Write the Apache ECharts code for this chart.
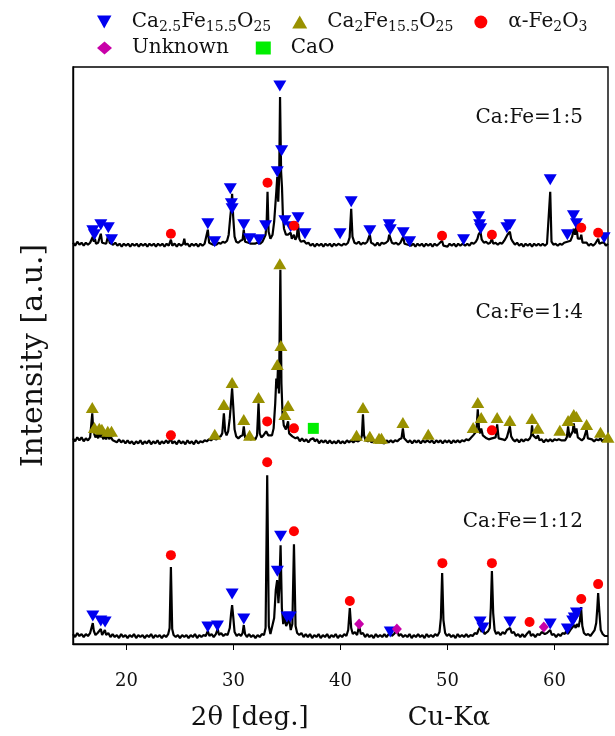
<!DOCTYPE html>
<html>
<head>
<meta charset="utf-8">
<title>XRD patterns</title>
<script src="https://cdn.jsdelivr.net/npm/echarts@6/dist/echarts.min.js"></script>
<style>
html, body { margin: 0; padding: 0; background: #fff; }
#chart { width: 615px; height: 736px; }
</style>
</head>
<body>
<div id="chart"></div>
<script>
// 样品标签 + 每条谱线的基线偏移（纵轴单位）
const samples = ['Ca:Fe=1:5', 'Ca:Fe=1:4', 'Ca:Fe=1:12']
const offsets = [398, 201, 6]
const xTicks = [20, 30, 40, 50, 60]

// 谱线：[2θ, 强度]
const trace15 = [[15.00,4],[15.20,1],[15.40,5],[15.60,2],[15.80,4],[16.00,1],[16.20,4],[16.40,2],[16.60,4],[16.75,5],[16.85,10],[16.95,5],[17.05,8],[17.15,3],[17.35,4],[17.48,3],[17.60,13],[17.72,4],[17.90,5],[18.10,3],[18.30,12],[18.42,4],[18.60,5],[18.75,2],[18.95,4],[19.15,1],[19.35,3],[19.55,0],[19.75,3],[19.95,1],[20.15,3],[20.35,0],[20.55,3],[20.75,1],[20.95,3],[21.15,0],[21.35,3],[21.55,1],[21.75,3],[21.95,0],[22.15,3],[22.35,1],[22.55,3],[22.75,0],[22.95,3],[23.15,1],[23.35,3],[23.55,0],[23.75,3],[23.95,1],[24.05,3],[24.15,7],[24.28,1],[24.50,3],[24.70,0],[24.90,3],[25.10,1],[25.30,3],[25.40,8],[25.50,2],[25.70,3],[25.90,0],[26.10,3],[26.30,1],[26.50,3],[26.70,0],[26.90,3],[27.10,1],[27.30,3],[27.48,4],[27.60,17],[27.72,4],[27.90,3],[28.10,2],[28.24,4],[28.40,2],[28.60,4],[28.80,3],[29.00,5],[29.20,4],[29.40,6],[29.55,12],[29.70,30],[29.80,40],[29.87,53],[29.97,30],[30.10,10],[30.25,5],[30.45,4],[30.65,6],[30.85,7],[30.96,17],[31.08,5],[31.25,3],[31.40,4],[31.50,6],[31.62,3],[31.80,4],[32.00,3],[32.20,4],[32.37,5],[32.50,3],[32.70,5],[32.85,7],[33.00,12],[33.10,25],[33.18,55],[33.28,15],[33.45,8],[33.65,12],[33.80,25],[33.90,40],[34.00,55],[34.09,70],[34.18,45],[34.27,70],[34.35,150],[34.45,75],[34.53,60],[34.62,30],[34.72,18],[34.80,20],[34.90,12],[35.00,14],[35.10,12],[35.22,10],[35.34,14],[35.45,8],[35.55,9],[35.65,12],[35.78,7],[35.92,10],[36.03,23],[36.15,8],[36.30,5],[36.45,4],[36.58,6],[36.68,8],[36.80,3],[37.00,4],[37.20,1],[37.40,3],[37.60,0],[37.80,3],[38.00,1],[38.20,3],[38.40,0],[38.60,3],[38.80,1],[39.00,3],[39.20,0],[39.40,3],[39.60,1],[39.80,3],[39.96,5],[40.10,1],[40.30,3],[40.50,2],[40.70,4],[40.85,9],[41.00,38],[41.12,10],[41.30,4],[41.50,3],[41.70,5],[41.90,2],[42.10,4],[42.30,3],[42.50,5],[42.62,6],[42.74,12],[42.86,4],[43.05,3],[43.25,1],[43.45,4],[43.65,1],[43.85,4],[44.05,3],[44.25,4],[44.45,6],[44.55,12],[44.65,10],[44.80,4],[45.00,3],[45.20,4],[45.40,2],[45.60,4],[45.75,5],[45.86,10],[45.98,3],[46.15,4],[46.30,2],[46.46,4],[46.60,1],[46.80,3],[47.00,0],[47.20,3],[47.40,1],[47.60,3],[47.80,0],[48.00,3],[48.20,1],[48.40,3],[48.60,0],[48.80,3],[49.00,1],[49.20,3],[49.35,2],[49.49,6],[49.62,1],[49.80,3],[50.00,0],[50.20,3],[50.40,1],[50.60,3],[50.80,0],[51.00,3],[51.20,1],[51.40,3],[51.50,4],[51.65,1],[51.85,3],[52.05,1],[52.25,4],[52.45,3],[52.65,5],[52.80,8],[52.90,12],[53.00,11],[53.08,15],[53.20,7],[53.40,4],[53.60,5],[53.80,3],[54.00,4],[54.15,8],[54.28,3],[54.50,4],[54.70,2],[54.90,4],[55.10,3],[55.30,6],[55.45,8],[55.60,12],[55.70,10],[55.83,15],[55.95,8],[56.10,5],[56.30,2],[56.50,4],[56.70,1],[56.90,3],[57.10,0],[57.30,3],[57.50,1],[57.70,3],[57.90,0],[58.10,3],[58.30,1],[58.50,3],[58.70,1],[58.90,3],[59.10,1],[59.30,3],[59.48,5],[59.60,55],[59.72,5],[59.90,2],[60.10,3],[60.30,1],[60.50,3],[60.70,2],[60.90,4],[61.05,3],[61.20,5],[61.35,4],[61.50,6],[61.65,10],[61.80,18],[61.92,12],[62.05,20],[62.18,8],[62.30,6],[62.42,8],[62.50,12],[62.62,4],[62.80,3],[63.00,4],[63.20,1],[63.40,3],[63.60,1],[63.80,3],[63.95,4],[64.08,8],[64.20,3],[64.40,4],[64.55,2],[64.64,4],[64.80,1],[65.00,3]]

const trace14 = [[15.00,5],[15.20,2],[15.40,6],[15.60,3],[15.80,6],[16.00,2],[16.20,5],[16.40,3],[16.60,6],[16.72,8],[16.80,30],[16.90,12],[17.00,14],[17.10,6],[17.25,9],[17.35,5],[17.46,12],[17.58,6],[17.70,11],[17.82,4],[17.95,7],[18.10,4],[18.25,10],[18.38,4],[18.50,7],[18.60,9],[18.72,3],[18.90,5],[19.10,1],[19.30,4],[19.50,1],[19.70,3],[19.90,0],[20.10,3],[20.30,0],[20.50,2],[20.70,-1],[20.90,2],[21.10,0],[21.30,3],[21.50,-1],[21.70,2],[21.90,0],[22.10,3],[22.30,-1],[22.50,2],[22.70,0],[22.90,3],[23.10,-1],[23.30,2],[23.50,0],[23.70,3],[23.90,0],[24.05,2],[24.15,5],[24.28,0],[24.50,2],[24.70,-1],[24.90,3],[25.10,0],[25.30,2],[25.50,-1],[25.70,3],[25.90,0],[26.10,2],[26.30,-1],[26.50,3],[26.70,0],[26.90,2],[27.10,1],[27.30,3],[27.50,2],[27.70,4],[27.90,3],[28.10,5],[28.25,6],[28.40,4],[28.60,6],[28.80,7],[28.95,10],[29.10,30],[29.22,12],[29.35,8],[29.50,12],[29.65,25],[29.80,45],[29.87,55],[29.97,38],[30.10,14],[30.25,7],[30.45,5],[30.65,7],[30.85,8],[30.96,17],[31.08,6],[31.25,4],[31.40,5],[31.50,6],[31.65,4],[31.85,5],[32.05,4],[32.20,8],[32.34,40],[32.45,10],[32.60,6],[32.80,8],[32.95,9],[33.05,12],[33.15,14],[33.25,8],[33.40,6],[33.60,8],[33.75,15],[33.90,40],[34.00,65],[34.08,55],[34.15,74],[34.25,50],[34.38,174],[34.48,60],[34.58,30],[34.70,18],[34.80,20],[34.90,14],[35.00,16],[35.10,22],[35.20,10],[35.35,9],[35.50,7],[35.65,8],[35.80,5],[36.00,6],[36.20,2],[36.40,5],[36.60,2],[36.80,4],[37.00,1],[37.20,4],[37.35,2],[37.46,5],[37.60,2],[37.80,4],[38.00,0],[38.20,3],[38.40,1],[38.60,3],[38.80,0],[39.00,3],[39.20,0],[39.40,2],[39.60,0],[39.80,3],[40.00,0],[40.20,2],[40.40,0],[40.60,3],[40.80,1],[41.00,3],[41.20,1],[41.40,3],[41.50,4],[41.65,2],[41.90,4],[42.00,8],[42.10,29],[42.20,8],[42.35,3],[42.55,2],[42.74,4],[42.90,1],[43.10,3],[43.30,1],[43.50,2],[43.60,3],[43.75,1],[43.90,3],[44.10,0],[44.30,3],[44.50,1],[44.70,3],[44.90,1],[45.10,3],[45.30,2],[45.50,4],[45.70,5],[45.83,15],[45.95,5],[46.10,3],[46.30,1],[46.50,3],[46.70,0],[46.90,3],[47.10,1],[47.30,3],[47.50,0],[47.70,3],[47.90,1],[48.10,3],[48.20,4],[48.35,1],[48.55,3],[48.75,0],[48.95,3],[49.15,1],[49.35,3],[49.55,0],[49.75,3],[49.95,1],[50.15,3],[50.35,0],[50.55,3],[50.75,1],[50.95,3],[51.15,1],[51.35,3],[51.55,2],[51.75,4],[51.95,3],[52.15,5],[52.30,6],[52.40,8],[52.55,6],[52.70,12],[52.83,34],[52.95,14],[53.05,10],[53.15,15],[53.30,8],[53.45,6],[53.65,5],[53.85,4],[54.00,4],[54.15,5],[54.30,3],[54.50,6],[54.64,19],[54.78,5],[54.95,3],[55.15,4],[55.35,3],[55.55,6],[55.70,8],[55.83,17],[55.95,7],[56.10,4],[56.30,2],[56.50,4],[56.70,1],[56.90,4],[57.10,2],[57.30,4],[57.50,3],[57.70,5],[57.82,8],[57.90,18],[58.00,8],[58.15,6],[58.30,5],[58.45,8],[58.60,3],[58.80,4],[59.00,1],[59.20,4],[59.40,2],[59.60,4],[59.80,2],[60.00,4],[60.20,3],[60.40,4],[60.50,6],[60.62,3],[60.80,4],[61.00,3],[61.15,6],[61.27,17],[61.40,6],[61.55,8],[61.70,12],[61.80,20],[61.92,10],[62.05,15],[62.18,6],[62.35,5],[62.55,3],[62.75,5],[62.90,6],[63.00,14],[63.12,5],[63.30,3],[63.50,4],[63.70,2],[63.90,4],[64.10,3],[64.30,5],[64.45,2],[64.65,4],[64.85,3],[65.00,5]]

const trace112 = [[15.00,4],[15.20,1],[15.40,5],[15.60,2],[15.80,4],[16.00,1],[16.20,4],[16.40,2],[16.60,5],[16.75,6],[16.85,15],[16.95,7],[17.10,3],[17.30,5],[17.45,3],[17.60,9],[17.72,3],[17.85,5],[17.98,8],[18.10,3],[18.30,5],[18.50,1],[18.70,4],[18.90,1],[19.10,3],[19.30,0],[19.50,4],[19.70,1],[19.90,3],[20.10,0],[20.30,3],[20.50,1],[20.70,4],[20.90,0],[21.10,3],[21.30,1],[21.50,3],[21.70,0],[21.90,3],[22.10,1],[22.30,4],[22.50,0],[22.70,3],[22.90,1],[23.10,3],[23.30,0],[23.50,3],[23.70,1],[23.90,4],[24.03,10],[24.15,71],[24.27,9],[24.40,3],[24.60,1],[24.80,3],[25.00,0],[25.20,3],[25.40,1],[25.60,3],[25.80,0],[26.00,3],[26.20,1],[26.40,4],[26.60,0],[26.80,3],[27.00,1],[27.20,3],[27.40,2],[27.60,7],[27.75,2],[27.95,4],[28.15,1],[28.35,4],[28.52,9],[28.65,3],[28.85,5],[29.05,2],[29.25,4],[29.45,3],[29.65,10],[29.78,25],[29.87,33],[29.97,22],[30.10,6],[30.30,2],[30.50,4],[30.70,2],[30.85,5],[30.96,13],[31.08,4],[31.25,1],[31.45,4],[31.65,1],[31.85,3],[32.05,0],[32.25,3],[32.45,1],[32.65,4],[32.85,3],[33.00,10],[33.15,163],[33.30,12],[33.45,4],[33.60,6],[33.80,20],[33.95,48],[34.08,58],[34.20,35],[34.28,50],[34.40,93],[34.52,30],[34.65,14],[34.80,22],[34.92,12],[35.05,10],[35.20,19],[35.35,8],[35.50,14],[35.65,94],[35.80,12],[35.95,5],[36.15,3],[36.35,5],[36.55,1],[36.75,4],[36.95,1],[37.15,4],[37.35,0],[37.55,3],[37.75,1],[37.95,4],[38.15,0],[38.35,3],[38.55,1],[38.75,4],[38.95,0],[39.15,3],[39.35,1],[39.55,4],[39.75,0],[39.95,3],[40.15,1],[40.35,4],[40.55,2],[40.72,8],[40.87,30],[41.00,10],[41.15,4],[41.35,6],[41.55,3],[41.74,12],[41.90,4],[42.10,5],[42.30,1],[42.50,4],[42.70,1],[42.90,3],[43.10,0],[43.30,4],[43.50,1],[43.70,3],[43.90,1],[44.10,4],[44.30,1],[44.50,4],[44.65,7],[44.80,2],[45.00,4],[45.15,3],[45.30,8],[45.45,2],[45.65,4],[45.85,1],[46.05,3],[46.25,1],[46.45,4],[46.65,0],[46.85,3],[47.05,1],[47.25,4],[47.45,1],[47.65,3],[47.85,0],[48.05,4],[48.25,1],[48.45,3],[48.65,1],[48.85,4],[49.05,2],[49.25,6],[49.38,20],[49.50,65],[49.62,18],[49.78,5],[49.95,2],[50.15,4],[50.35,1],[50.55,3],[50.75,0],[50.95,4],[51.15,1],[51.35,3],[51.55,1],[51.75,4],[51.95,1],[52.15,3],[52.35,2],[52.55,5],[52.75,4],[52.90,8],[53.05,11],[53.18,6],[53.32,9],[53.45,4],[53.62,5],[53.80,7],[53.95,10],[54.05,30],[54.15,67],[54.27,25],[54.40,8],[54.55,4],[54.75,6],[54.95,3],[55.15,6],[55.35,4],[55.55,8],[55.70,6],[55.85,10],[56.00,5],[56.20,6],[56.40,2],[56.60,4],[56.80,1],[57.00,4],[57.20,1],[57.40,4],[57.55,3],[57.67,7],[57.80,2],[58.00,4],[58.20,1],[58.40,4],[58.60,3],[58.80,6],[58.95,8],[59.10,4],[59.30,5],[59.45,4],[59.60,8],[59.75,3],[59.95,4],[60.15,1],[60.35,4],[60.55,2],[60.75,5],[60.95,4],[61.10,7],[61.25,4],[61.40,6],[61.55,9],[61.70,8],[61.85,13],[61.98,10],[62.10,14],[62.25,11],[62.38,18],[62.48,31],[62.60,12],[62.75,5],[62.95,3],[63.15,4],[63.35,2],[63.55,5],[63.75,8],[63.90,15],[64.00,30],[64.08,45],[64.18,28],[64.32,8],[64.50,4],[64.70,2],[64.85,4],[65.00,2]]

// 物相标记：[2θ, 距基线高度]
const ca25_15 = [[16.85,16],[17.0,12],[17.6,22],[18.3,19],[18.6,7],[27.6,23],[28.24,5],[29.7,58],[29.8,43],[29.87,38],[30.96,22],[31.5,8],[32.37,7],[33.0,21],[34.09,75],[34.33,161],[34.5,96],[34.8,26],[35.34,20],[36.03,29],[36.68,13],[39.96,13],[41.0,45],[42.74,16],[44.55,22],[44.65,17],[45.86,14],[46.46,5],[51.5,7],[52.9,30],[53.0,22],[53.1,18],[55.55,19],[55.83,22],[59.6,67],[61.2,12],[61.77,31],[62.05,23],[64.64,9]]
const ca25_112 = [[16.85,22],[17.6,17],[18.0,16],[27.6,11],[28.5,12],[29.87,44],[30.96,19],[34.1,67],[34.4,102],[35.0,21],[35.3,21],[44.65,6],[53.05,16],[53.3,10],[55.83,16],[59.6,14],[61.2,9],[61.7,17],[61.85,20],[62.05,25]]
const ca2_14 = [[16.8,36],[17.0,16],[17.46,15],[17.7,14],[18.25,12],[18.6,12],[28.25,9],[29.1,39],[29.87,61],[30.96,24],[31.5,8],[32.34,46],[34.09,79],[34.33,180],[34.43,98],[34.8,29],[35.1,38],[41.5,8],[42.1,36],[42.74,7],[43.6,5],[43.83,5],[45.83,21],[48.2,9],[52.4,16],[52.83,41],[53.15,26],[54.64,26],[55.83,23],[57.9,25],[58.45,15],[60.5,13],[61.27,23],[61.8,29],[62.05,27],[63.0,19],[64.3,11],[65.0,6]]
const fe2o3_15 = [[24.15,13],[33.18,64],[35.65,21],[49.49,11],[54.15,12],[62.5,19],[64.08,14]]
const fe2o3_14 = [[24.15,8],[33.15,22],[35.65,15],[54.15,13]]
const fe2o3_112 = [[24.15,83],[33.15,176],[35.65,107],[40.87,37],[49.52,75],[54.15,75],[57.67,16],[62.5,39],[64.08,54]]
const unknown_112 = [[41.74,14],[45.27,9],[59.0,11]]
const cao_14 = [[37.46,15]]

const FONT = 'DejaVu Serif'
const downTri = 'path://M0,0L10,0L5,9Z'

function shift(arr, off) {
    return arr.map(p => [p[0], p[1] + off])
}

const legendRich = {
    m: { fontFamily: FONT, fontSize: 20, color: '#111', lineHeight: 24 },
    s: { fontFamily: FONT, fontSize: 14, color: '#111', lineHeight: 14, verticalAlign: 'bottom' }
}
const legendText = {
    'Ca2.5Fe15.5O25': '{m|Ca}{s|2.5}{m|Fe}{s|15.5}{m|O}{s|25}',
    'Ca2Fe15.5O25': '{m|Ca}{s|2}{m|Fe}{s|15.5}{m|O}{s|25}',
    'α-Fe2O3': '{m|α-Fe}{s|2}{m|O}{s|3}',
    'Unknown': '{m|Unknown}',
    'CaO': '{m|CaO}'
}

const chart = echarts.init(document.getElementById('chart'))

const lineSeries = [trace15, trace14, trace112].map((tr, i) => ({
    name: samples[i],
    type: 'line',
    data: shift(tr, offsets[i]),
    showSymbol: false,
    lineStyle: { color: '#000', width: 2.2 },
    z: 2
}))

const legendBase = {
    left: 92,
    orient: 'horizontal',
    itemWidth: 15,
    itemHeight: 13,
    itemGap: 21,
    textStyle: { padding: [0, 0, 0, 15], rich: legendRich },
    formatter: name => legendText[name]
}

const option = {
    animation: false,
    legend: [
        Object.assign({}, legendBase, {
            top: 7,
            data: [
                { name: 'Ca2.5Fe15.5O25', icon: downTri },
                { name: 'Ca2Fe15.5O25', icon: 'triangle' },
                { name: 'α-Fe2O3', icon: 'circle' }
            ]
        }),
        Object.assign({}, legendBase, {
            top: 33,
            itemGap: 27,
            data: [
                { name: 'Unknown', icon: 'diamond' },
                { name: 'CaO', icon: 'rect' }
            ]
        })
    ],
    grid: {
        left: 73, right: 7, top: 67, bottom: 91,
        show: true, borderColor: '#000', borderWidth: 1.4
    },
    xAxis: {
        type: 'value',
        min: 15,
        max: 65,
        name: '2θ [deg.]            Cu-Kα',
        nameLocation: 'middle',
        nameGap: 61,
        nameTextStyle: { fontFamily: FONT, fontSize: 26, color: '#111' },
        axisLine: { show: true, lineStyle: { color: '#000', width: 1.4 } },
        axisTick: { show: true, inside: false, length: 6, lineStyle: { color: '#000' }, customValues: xTicks },
        axisLabel: { fontFamily: FONT, fontSize: 18, color: '#111', margin: 28, customValues: xTicks },
        splitLine: { show: false }
    },
    yAxis: {
        type: 'value',
        min: 0,
        max: 578,
        name: 'Intensity [a.u.]',
        nameLocation: 'middle',
        nameRotate: 90,
        nameGap: 24,
        nameTextStyle: { fontFamily: FONT, fontSize: 30, color: '#111' },
        axisLine: { show: true, lineStyle: { color: '#000', width: 1.4 } },
        axisTick: { show: false },
        axisLabel: { show: false },
        splitLine: { show: false }
    },
    series: lineSeries.concat([
        {
            name: 'Ca2.5Fe15.5O25', type: 'scatter', symbol: downTri, symbolSize: [13, 11],
            itemStyle: { color: '#0000f0', opacity: 1 }, z: 5,
            data: shift(ca25_15, offsets[0]).concat(shift(ca25_112, offsets[2]))
        },
        {
            name: 'Ca2Fe15.5O25', type: 'scatter', symbol: 'triangle', symbolSize: [13, 11],
            itemStyle: { color: '#999100', opacity: 1 }, z: 5,
            data: shift(ca2_14, offsets[1])
        },
        {
            name: 'α-Fe2O3', type: 'scatter', symbol: 'circle', symbolSize: 10,
            itemStyle: { color: '#ff0000', opacity: 1 }, z: 5,
            data: shift(fe2o3_15, offsets[0]).concat(shift(fe2o3_14, offsets[1]), shift(fe2o3_112, offsets[2]))
        },
        {
            name: 'Unknown', type: 'scatter', symbol: 'diamond', symbolSize: [10, 11],
            itemStyle: { color: '#c800a8', opacity: 1 }, z: 5,
            data: shift(unknown_112, offsets[2])
        },
        {
            name: 'CaO', type: 'scatter', symbol: 'rect', symbolSize: 11,
            itemStyle: { color: '#00ee00', opacity: 1 }, z: 5,
            data: shift(cao_14, offsets[1])
        }
    ]),
    graphic: [
        { type: 'text', right: 32, top: 108, style: { text: samples[0], font: '20px "DejaVu Serif"', fill: '#111' } },
        { type: 'text', right: 32, top: 303, style: { text: samples[1], font: '20px "DejaVu Serif"', fill: '#111' } },
        { type: 'text', right: 32, top: 512, style: { text: samples[2], font: '20px "DejaVu Serif"', fill: '#111' } }
    ]
}

chart.setOption(option)
</script>
</body>
</html>
